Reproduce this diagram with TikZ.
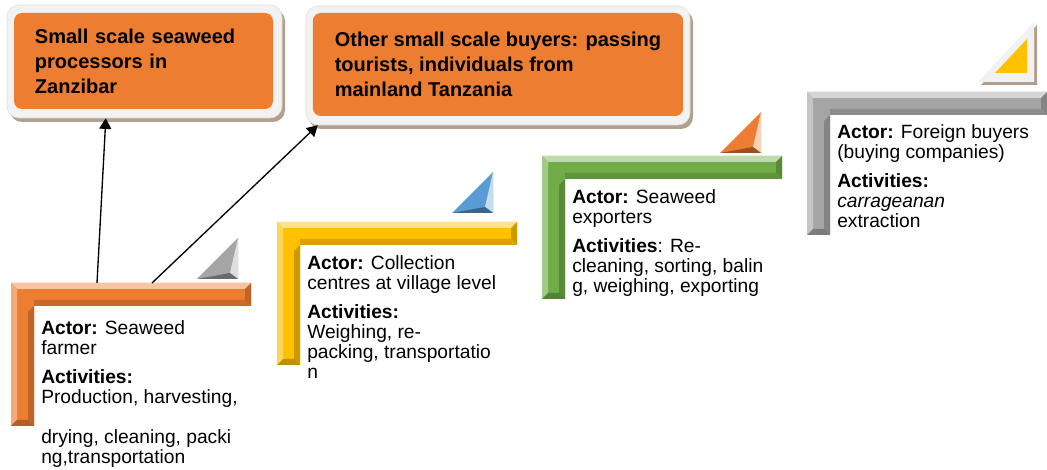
\documentclass[tikz,border=0pt]{standalone}
\usepackage{fontspec}
\setmainfont{Liberation Sans}
\usetikzlibrary{arrows.meta}
\definecolor{orangeC}{HTML}{ED7D31}
\definecolor{yellowC}{HTML}{FFC000}
\definecolor{greenC}{HTML}{70AD47}
\definecolor{grayC}{HTML}{A5A5A5}
\definecolor{blueC}{HTML}{5B9BD5}
\definecolor{shadowC}{RGB}{178,160,140}
\begin{document}
\begin{tikzpicture}[x=0.75pt,y=-0.75pt,
	boxframe/.style={draw=black!13,fill=black!5,rounded corners=9pt,inner sep=0pt},
	boxshadow/.style={fill=shadowC,rounded corners=9pt},
	topbox/.style={fill=orangeC,rounded corners=6pt,align=left,inner ysep=0pt,font=\fontsize{15}{18.75}\selectfont\bfseries},
	steptext/.style={anchor=north west,align=left,inner sep=0pt,font=\fontsize{14.4}{15}\selectfont},
	flow/.style={-{Triangle[length=8pt,width=9pt]},line width=1pt}]
	\useasboundingbox (0,0) rectangle (1047,470);
	% top boxes
	\fill[boxshadow] (10,9) rectangle (285,122);
	\node[boxframe,minimum width=206.25pt,minimum height=84.75pt] (procframe) at (144.5,61.5) {};
	\node[topbox,minimum width=194.25pt,minimum height=72pt,text width=162.75pt,inner xsep=15.75pt] (procbox) at (143.5,61) {Small scale seaweed\\processors in\\Zanzibar};
	\fill[boxshadow] (309,10) rectangle (693,129);
	\node[boxframe,minimum width=288pt,minimum height=89.25pt] (buyframe) at (498,65.5) {};
	\node[topbox,minimum width=277.5pt,minimum height=77.25pt,inner xsep=16.5pt] (buybox) at (498,64.5) {Other small scale buyers: passing\\tourists, individuals from\\mainland Tanzania};
	% step bars
	\foreach \x/\y/\c in {11/283/orangeC,277/222/yellowC,542/156/greenC,807/92/grayC}{
		\fill[\c] (\x,\y) -- ++(240,0) -- ++(0,23) -- ++(-217,0) -- ++(0,120) -- ++(-23,0) -- cycle;
		\fill[\c!45!white] (\x,\y) -- ++(240,0) -- ++(-6,6) -- ++(-228,0) -- cycle;
		\fill[\c!65!white] (\x,\y) -- ++(6,6) -- ++(0,131) -- ++(-6,6) -- cycle;
		\fill[\c!80!black] ({\x+240},\y) -- ++(0,23) -- ++(-6,-6) -- ++(0,-11) -- cycle;
		\fill[\c!85!black] ({\x+23},{\y+23}) -- ++(217,0) -- ++(-6,-6) -- ++(-211,0) -- cycle;
		\fill[\c!80!black] ({\x+23},{\y+23}) -- ++(0,120) -- ++(-6,-6) -- ++(0,-108) -- cycle;
		\fill[\c!75!black] (\x,{\y+143}) -- ++(23,0) -- ++(-6,-6) -- ++(-11,0) -- cycle;
	}
	% triangles
	\foreach \x/\y/\c in {238/279/grayC,493/213/blueC,761/153/orangeC}{
		\fill[\c] (\x,\y) -- ++(-41,0) -- ++(41,-41) -- cycle;
		\fill[\c!35!white] (\x,\y) -- ++(0,-41) -- ++(-8,35) -- cycle;
		\fill[\c!65!black] (\x,\y) -- ++(-41,0) -- ++(33,-6) -- cycle;
	}
	\fill[shadowC] (981,85) -- (1037,85) -- (1037,25) -- cycle;
	\fill[black!5] (978,82) -- (1034,82) -- (1034,22) -- cycle;
	\fill[yellowC] (995,73) -- (1027,73) -- (1027,39) -- cycle;
	% step texts
	\node[steptext] (farmertext) at (41,320) {\textbf{Actor:} Seaweed\\farmer\\[7pt]\textbf{Activities:}\\Production, harvesting,\\[15pt]drying, cleaning, packi\\ng,transportation};
	\node[steptext] (collecttext) at (307,255) {\textbf{Actor:} Collection\\centres at village level\\[7pt]\textbf{Activities:}\\Weighing, re-\\packing, transportatio\\n};
	\node[steptext] (exporttext) at (572,189) {\textbf{Actor:} Seaweed\\exporters\\[7pt]\textbf{Activities}: Re-\\cleaning, sorting, balin\\g, weighing, exporting};
	\node[steptext] (buyertext) at (837,124) {\textbf{Actor:} Foreign buyers\\(buying companies)\\[7pt]\textbf{Activities:}\\\textit{carrageanan}\\extraction};
	% arrows
	\coordinate (tail1) at (97,283);
	\coordinate (tail2) at (152,283);
	\draw[flow] (tail1) -- ([xshift=-29pt]procframe.south);
	\draw[flow] (tail2) -- ([xshift=9pt]buyframe.south west);
\end{tikzpicture}
\end{document}
